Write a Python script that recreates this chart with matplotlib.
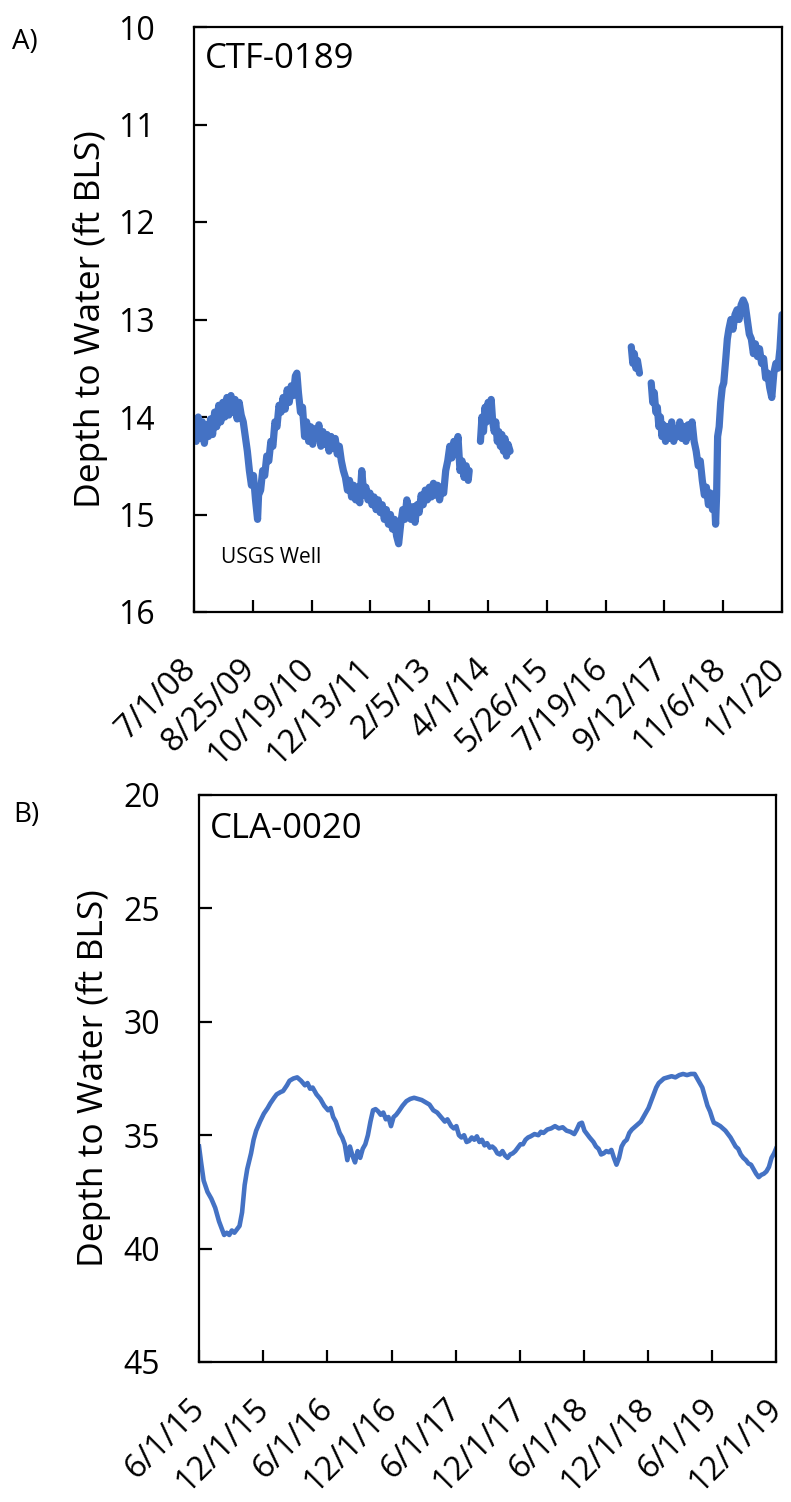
import matplotlib
matplotlib.use("Agg")
import matplotlib.pyplot as plt
import matplotlib.transforms as mtrans
from datetime import datetime

plt.rcParams['font.family'] = ['Open Sans', 'DejaVu Sans']

# ---------------- Panel A data (CTF-0189) ----------------
a_seg1_t = [2008.50, 2008.54, 2008.58, 2008.62, 2008.66, 2008.70, 2008.74, 2008.78, 2008.82, 2008.86,
            2008.90, 2008.94, 2008.98, 2009.02, 2009.06, 2009.10, 2009.14, 2009.18, 2009.22, 2009.26,
            2009.30, 2009.34, 2009.38, 2009.42, 2009.46, 2009.50, 2009.54, 2009.58, 2009.62, 2009.66,
            2009.70, 2009.74, 2009.76, 2009.80, 2009.84, 2009.88, 2009.92, 2009.96, 2010.00, 2010.04,
            2010.08, 2010.12, 2010.16, 2010.20, 2010.24, 2010.28, 2010.32, 2010.36, 2010.40, 2010.44,
            2010.48, 2010.51, 2010.54, 2010.58, 2010.62, 2010.66, 2010.70, 2010.74, 2010.78, 2010.82,
            2010.86, 2010.90, 2010.94, 2010.98, 2011.02, 2011.06, 2011.10, 2011.14, 2011.18, 2011.22,
            2011.26, 2011.30, 2011.34, 2011.38, 2011.42, 2011.46, 2011.50, 2011.54, 2011.58, 2011.62,
            2011.66, 2011.70, 2011.74, 2011.78, 2011.82, 2011.86, 2011.90, 2011.94, 2011.98, 2012.02,
            2012.06, 2012.10, 2012.14, 2012.18, 2012.22, 2012.26, 2012.30, 2012.34, 2012.38, 2012.42,
            2012.46, 2012.50, 2012.54, 2012.58, 2012.62, 2012.66, 2012.70, 2012.74, 2012.78, 2012.82,
            2012.86, 2012.90, 2012.94, 2012.98, 2013.02, 2013.06, 2013.10, 2013.14, 2013.18, 2013.22,
            2013.26, 2013.30, 2013.34, 2013.38, 2013.42, 2013.46, 2013.50, 2013.54, 2013.58, 2013.62,
            2013.66, 2013.70, 2013.74, 2013.78, 2013.82, 2013.86, 2013.88]
a_seg1_v = [14.05, 14.25, 14.00, 14.22, 14.05, 14.27, 14.08, 14.20, 14.02, 14.18,
            13.95, 14.10, 13.88, 14.05, 13.85, 14.00, 13.80, 13.98, 13.78, 13.95,
            13.82, 14.02, 13.85, 13.98, 14.05, 14.20, 14.35, 14.55, 14.70, 14.60,
            14.85, 15.05, 14.80, 14.75, 14.55, 14.60, 14.40, 14.45, 14.25, 14.30,
            14.05, 14.10, 13.88, 13.95, 13.80, 13.92, 13.72, 13.85, 13.68, 13.78,
            13.58, 13.55, 13.75, 13.95, 13.90, 14.20, 14.05, 14.25, 14.10, 14.28,
            14.12, 14.22, 14.08, 14.30, 14.15, 14.28, 14.18, 14.35, 14.20, 14.32,
            14.22, 14.38, 14.30, 14.45, 14.55, 14.62, 14.75, 14.65, 14.82, 14.70,
            14.85, 14.72, 14.88, 14.55, 14.80, 14.72, 14.85, 14.78, 14.90, 14.82,
            14.95, 14.85, 14.98, 14.90, 15.05, 14.95, 15.10, 15.00, 15.15, 15.05,
            15.22, 15.30, 15.10, 14.95, 15.05, 14.85, 14.95, 15.05, 14.92, 15.08,
            14.90, 14.98, 14.80, 14.90, 14.75, 14.85, 14.72, 14.82, 14.68, 14.80,
            14.70, 14.85, 14.72, 14.78, 14.55, 14.45, 14.30, 14.42, 14.25, 14.38,
            14.20, 14.55, 14.45, 14.62, 14.50, 14.65, 14.55]

a_seg2_t = [2014.10, 2014.13, 2014.16, 2014.19, 2014.22, 2014.25, 2014.28, 2014.31, 2014.34, 2014.37,
            2014.40, 2014.43, 2014.46, 2014.49, 2014.52, 2014.55, 2014.58, 2014.61, 2014.64, 2014.68]
a_seg2_v = [14.25, 14.00, 14.15, 13.90, 14.05, 13.85, 13.95, 13.82, 14.05, 14.15,
            14.05, 14.25, 14.15, 14.30, 14.18, 14.35, 14.22, 14.40, 14.28, 14.35]

a_seg3_t = [2017.05, 2017.08, 2017.11, 2017.14, 2017.17, 2017.21]
a_seg3_v = [13.28, 13.45, 13.35, 13.50, 13.42, 13.55]

a_seg4_t = [2017.44, 2017.47, 2017.50, 2017.53, 2017.56, 2017.59, 2017.62, 2017.65, 2017.68, 2017.72,
            2017.76, 2017.80, 2017.84, 2017.88, 2017.92, 2017.96, 2018.00, 2018.04, 2018.08, 2018.12,
            2018.16, 2018.20, 2018.24, 2018.28, 2018.32, 2018.36, 2018.40, 2018.44, 2018.48, 2018.52,
            2018.56, 2018.60, 2018.64, 2018.68, 2018.70, 2018.72, 2018.74, 2018.77, 2018.80, 2018.83,
            2018.86, 2018.90, 2018.93, 2018.96, 2019.00, 2019.04, 2019.08, 2019.12, 2019.16, 2019.20,
            2019.24, 2019.28, 2019.32, 2019.36, 2019.40, 2019.44, 2019.48, 2019.52, 2019.56, 2019.60,
            2019.64, 2019.68, 2019.72, 2019.76, 2019.80, 2019.84, 2019.88, 2019.92, 2019.96, 2020.00]
a_seg4_v = [13.65, 13.85, 13.75, 13.95, 13.90, 14.10, 14.00, 14.20, 14.08, 14.25,
            14.10, 14.22, 14.05, 14.25, 14.12, 14.20, 14.05, 14.22, 14.10, 14.25,
            14.08, 14.20, 14.05, 14.25, 14.35, 14.50, 14.45, 14.65, 14.80, 14.72,
            14.90, 14.78, 14.95, 14.85, 15.10, 14.80, 14.20, 14.10, 13.85, 13.70,
            13.65, 13.40, 13.20, 13.10, 13.00, 13.10, 12.95, 12.90, 13.00, 12.85,
            12.80, 12.85, 13.00, 13.15, 13.20, 13.35, 13.25, 13.38, 13.30, 13.45,
            13.40, 13.60, 13.55, 13.70, 13.80, 13.55, 13.45, 13.50, 13.30, 12.95]

a_tick_labels = ["7/1/08", "8/25/09", "10/19/10", "12/13/11", "2/5/13", "4/1/14",
                 "5/26/15", "7/19/16", "9/12/17", "11/6/18", "1/1/20"]
a_yticks = [10, 11, 12, 13, 14, 15, 16]

# ---------------- Panel B data (CLA-0020) ----------------
b_t = [2015.414, 2015.43, 2015.45, 2015.48, 2015.51, 2015.54, 2015.57, 2015.59, 2015.61, 2015.63,
       2015.65, 2015.67, 2015.69, 2015.71, 2015.73, 2015.75, 2015.77, 2015.79, 2015.82, 2015.84,
       2015.86, 2015.89, 2015.92, 2015.95, 2015.97, 2016.00, 2016.02, 2016.05, 2016.07, 2016.10,
       2016.12, 2016.15, 2016.18, 2016.21, 2016.24, 2016.26, 2016.28, 2016.30, 2016.33, 2016.36,
       2016.39, 2016.42, 2016.44, 2016.46, 2016.48, 2016.51, 2016.53, 2016.55, 2016.57, 2016.59,
       2016.61, 2016.63, 2016.65, 2016.67, 2016.69, 2016.71, 2016.73, 2016.75, 2016.77, 2016.79,
       2016.81, 2016.83, 2016.85, 2016.87, 2016.89, 2016.91, 2016.93, 2016.95, 2016.97, 2017.00,
       2017.03, 2017.06, 2017.09, 2017.12, 2017.15, 2017.18, 2017.21, 2017.24, 2017.27, 2017.30,
       2017.33, 2017.35, 2017.38, 2017.40, 2017.42, 2017.44, 2017.46, 2017.48, 2017.50, 2017.52,
       2017.54, 2017.56, 2017.58, 2017.60, 2017.62, 2017.64, 2017.66, 2017.68, 2017.70, 2017.72,
       2017.74, 2017.76, 2017.78, 2017.80, 2017.82, 2017.84, 2017.86, 2017.88, 2017.90, 2017.92,
       2017.94, 2017.96, 2017.98, 2018.00, 2018.03, 2018.06, 2018.08, 2018.10, 2018.13, 2018.16,
       2018.19, 2018.22, 2018.25, 2018.28, 2018.31, 2018.34, 2018.36, 2018.38, 2018.40, 2018.42,
       2018.44, 2018.46, 2018.49, 2018.51, 2018.53, 2018.55, 2018.57, 2018.59, 2018.61, 2018.63,
       2018.65, 2018.67, 2018.69, 2018.71, 2018.73, 2018.75, 2018.77, 2018.79, 2018.82, 2018.84,
       2018.86, 2018.88, 2018.90, 2018.92, 2018.94, 2018.96, 2018.98, 2019.00, 2019.02, 2019.04,
       2019.07, 2019.10, 2019.13, 2019.16, 2019.19, 2019.22, 2019.25, 2019.28, 2019.30, 2019.32,
       2019.34, 2019.36, 2019.38, 2019.40, 2019.42, 2019.43, 2019.45, 2019.48, 2019.50, 2019.52,
       2019.54, 2019.56, 2019.58, 2019.60, 2019.62, 2019.64, 2019.66, 2019.68, 2019.70, 2019.72,
       2019.74, 2019.76, 2019.78, 2019.80, 2019.82, 2019.84, 2019.86, 2019.88, 2019.90, 2019.915]
b_v = [35.5, 36.2, 37.0, 37.5, 37.8, 38.2, 38.8, 39.1, 39.4, 39.3,
       39.4, 39.2, 39.3, 39.15, 39.0, 38.4, 37.2, 36.5, 35.8, 35.2,
       34.8, 34.4, 34.05, 33.8, 33.6, 33.35, 33.2, 33.1, 33.05, 32.8,
       32.6, 32.5, 32.45, 32.6, 32.8, 32.7, 32.95, 32.9, 33.2, 33.4,
       33.7, 33.9, 33.8, 34.2, 34.4, 34.9, 35.1, 35.4, 36.1, 35.5,
       35.9, 36.2, 35.7, 36.0, 35.6, 35.4, 35.0, 34.4, 33.9, 33.85,
       33.95, 34.1, 34.0, 34.3, 34.2, 34.6, 34.2, 34.1, 33.95, 33.7,
       33.5, 33.4, 33.35, 33.4, 33.45, 33.55, 33.65, 33.9, 34.0, 34.2,
       34.4, 34.3, 34.6, 34.7, 34.6, 35.0, 35.1, 35.0, 35.3, 35.25,
       35.1, 35.2, 35.05, 35.3, 35.2, 35.45, 35.35, 35.55, 35.5, 35.6,
       35.8, 35.85, 35.7, 35.9, 36.0, 35.85, 35.8, 35.7, 35.55, 35.4,
       35.4, 35.2, 35.1, 35.05, 34.95, 35.0, 34.85, 34.9, 34.75, 34.7,
       34.6, 34.7, 34.65, 34.8, 34.85, 34.95, 34.75, 34.5, 34.45, 34.8,
       34.95, 35.1, 35.3, 35.5, 35.6, 35.85, 35.8, 35.7, 35.75, 35.65,
       36.0, 36.3, 36.0, 35.5, 35.3, 35.2, 34.9, 34.75, 34.6, 34.5,
       34.4, 34.2, 34.0, 33.8, 33.5, 33.2, 32.9, 32.7, 32.6, 32.5,
       32.45, 32.4, 32.45, 32.35, 32.3, 32.35, 32.3, 32.3, 32.5, 32.7,
       32.9, 33.3, 33.7, 33.95, 34.3, 34.45, 34.5, 34.6, 34.7, 34.8,
       34.95, 35.1, 35.3, 35.5, 35.6, 35.85, 36.0, 36.1, 36.25, 36.3,
       36.5, 36.7, 36.85, 36.75, 36.7, 36.6, 36.4, 36.0, 35.8, 35.6]

b_tick_labels = ["6/1/15", "12/1/15", "6/1/16", "12/1/16", "6/1/17", "12/1/17",
                 "6/1/18", "12/1/18", "6/1/19", "12/1/19"]
b_yticks = [20, 25, 30, 35, 40, 45]

LINE_COLOR = "#4472C4"


def dy(y):
    yr = int(y)
    start = datetime(yr, 1, 1)
    end = datetime(yr + 1, 1, 1)
    return start + (end - start) * (y - yr)


def parse(lbl):
    return datetime.strptime(lbl, "%m/%d/%y")


W, H = 791, 1502
fig = plt.figure(figsize=(W / 100, H / 100), dpi=100)

axA = fig.add_axes([194 / W, 1 - 612 / H, (782 - 194) / W, (612 - 27) / H])
axB = fig.add_axes([199 / W, 1 - 1362 / H, (776 - 199) / W, (1362 - 795) / H])


def style(ax, labels, yticks, xpad, xshift):
    for s in ax.spines.values():
        s.set_linewidth(1.6)
        s.set_color("black")
    pos = [parse(l) for l in labels]
    ax.set_xlim(pos[0], pos[-1])
    ax.set_xticks(pos)
    ax.set_xticklabels(labels, rotation=45, ha="right", va="top", rotation_mode="anchor")
    ax.set_yticks(yticks)
    ax.set_ylim(yticks[-1], yticks[0])
    ax.tick_params(axis="both", direction="in", length=9, width=1.6,
                   top=False, right=False, colors="black")
    ax.tick_params(axis="y", pad=28, labelsize=23)
    ax.tick_params(axis="x", pad=xpad, labelsize=23.5)
    shift = mtrans.ScaledTranslation(xshift, 0, fig.dpi_scale_trans)
    for lbl in ax.get_xticklabels():
        lbl.set_transform(lbl.get_transform() + shift)
    ax.set_ylabel("Depth to Water (ft BLS)", fontsize=25.5)


style(axA, a_tick_labels, a_yticks, 29, -0.14)
style(axB, b_tick_labels, b_yticks, 22, -0.11)

for ts, vs in [(a_seg1_t, a_seg1_v), (a_seg2_t, a_seg2_v), (a_seg3_t, a_seg3_v), (a_seg4_t, a_seg4_v)]:
    axA.plot([dy(t) for t in ts], vs, color=LINE_COLOR, lw=5.2, solid_joinstyle="round",
             solid_capstyle="round")

axB.plot([dy(t) for t in b_t], b_v, color=LINE_COLOR, lw=3.3, solid_joinstyle="round")

axA.yaxis.set_label_coords(-0.146, 0.5)
axB.yaxis.set_label_coords(-0.153, 0.5)

axA.text(0.019, 0.93, "CTF-0189", transform=axA.transAxes, fontsize=25, va="baseline", ha="left")
axA.text(0.046, 0.0838, "USGS Well", transform=axA.transAxes, fontsize=15, va="baseline", ha="left")
axB.text(0.019, 0.924, "CLA-0020", transform=axB.transAxes, fontsize=25, va="baseline", ha="left")

fig.text(12 / W, 1 - 42 / H, "A)", fontsize=20, va="center", ha="left")
fig.text(13 / W, 1 - 815 / H, "B)", fontsize=20, va="center", ha="left")

fig.savefig("out.png", dpi=100)
